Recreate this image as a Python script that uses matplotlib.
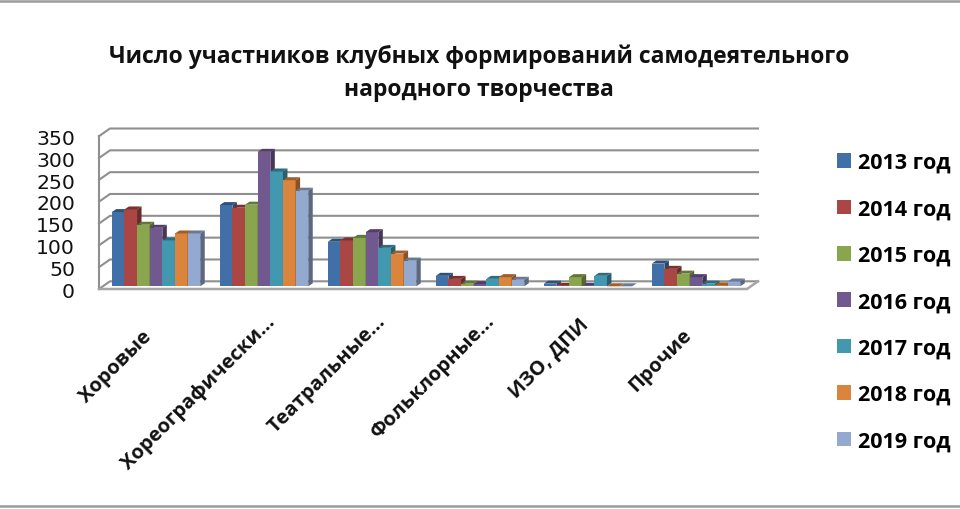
import numpy as np
import matplotlib
matplotlib.use("Agg")
import matplotlib.pyplot as plt
from matplotlib.collections import PolyCollection
from matplotlib.colors import to_rgb
from matplotlib.lines import Line2D
from matplotlib.patches import Patch
from matplotlib.transforms import ScaledTranslation

categories = ["Хоровые", "Хореографически…", "Театральные…", "Фольклорные…", "ИЗО, ДПИ", "Прочие"]
years = ["2013 год", "2014 год", "2015 год", "2016 год", "2017 год", "2018 год", "2019 год"]

y2013 = [170, 186, 102, 24, 6, 52]
y2014 = [176, 180, 105, 17, 1, 40]
y2015 = [141, 187, 111, 6, 21, 29]
y2016 = [134, 308, 124, 5, 1, 21]
y2017 = [105, 263, 88, 17, 24, 6]
y2018 = [121, 243, 75, 21, 0, 2]
y2019 = [121, 219, 59, 15, 0, 11]
series = [y2013, y2014, y2015, y2016, y2017, y2018, y2019]

colors = ["#4170A8", "#AA4643", "#89A54E", "#71588F", "#4198AF", "#DB843D", "#93A9CF"]
yticks = [0, 50, 100, 150, 200, 250, 300, 350]

W, H = 960, 510
plt.rcParams["font.family"] = ["Open Sans", "DejaVu Sans"]

fig = plt.figure(figsize=(W / 100, H / 100), dpi=100)
# bar plane in pixels: x 102..750, zero at y=287.3, 350 at y=134.5
ax = fig.add_axes([102 / W, 1 - 287.3 / H, 648 / W, 152.8 / H])
ax.set_xlim(-0.5, 5.5)
ax.set_ylim(0, 350)
for s in ax.spines.values():
    s.set_visible(False)

px_x = 6 / 648   # one pixel in data units
px_y = 350 / 152.8
grid = "#8f8f8f"

# walls and floor
x0f, x1f = -0.5 - 3 * px_x, 5.5 - 3 * px_x
x0b, x1b = -0.5 + 8 * px_x, 5.5 + 8 * px_x
yf, yb = -2.7 * px_y, 5 * px_y
for v in yticks:
    ax.plot([x0f, x0b, x1b], [v + yf, v + yb, v + yb], color=grid, lw=1.5, clip_on=False, zorder=1)
ax.plot([x0f, x0f], [yf, 350 + yf], color=grid, lw=1.5, clip_on=False, zorder=1)
ax.plot([x0f, x1f, x1b], [yf, yf, yb], color="#a6a6a6", lw=1.8, clip_on=False, zorder=1)

# 3d look of the bars
width = 88.5 / 7 * px_x
dx, dy = 4.5 * px_x, 3 * px_y
offsets = np.arange(7) - 3
xpos = np.arange(len(categories))
for j, vals in enumerate(series):
    xs = xpos + offsets[j] * width
    rgb = np.array(to_rgb(colors[j]))
    ax.bar(xs, vals, width=width, color=colors[j], zorder=3 + j, clip_on=False)
    tops = [[(x - width / 2, v), (x + width / 2, v), (x + width / 2 + dx, v + dy), (x - width / 2 + dx, v + dy)]
            for x, v in zip(xs, vals)]
    sides = [[(x + width / 2, 0), (x + width / 2 + dx, dy), (x + width / 2 + dx, v + dy), (x + width / 2, v)]
             for x, v in zip(xs, vals)]
    ax.add_collection(PolyCollection(tops, facecolors=[rgb * 0.72], edgecolors="none", zorder=3 + j, clip_on=False))
    ax.add_collection(PolyCollection(sides, facecolors=[rgb * 0.62], edgecolors="none", zorder=3 + j, clip_on=False))

ax.set_yticks(yticks)
ax.tick_params(axis="y", length=0, pad=19.5, labelsize=14.7, labelcolor="#111111")
down = ScaledTranslation(0, -3 / 72 * 0.72, fig.dpi_scale_trans)
for lab in ax.get_yticklabels():
    lab.set_family(["DejaVu Sans"])
    lab.set_transform(lab.get_transform() + down)

ax.set_xticks(xpos)
ax.set_xticklabels(categories, rotation=45, ha="right", va="top", rotation_mode="anchor",
                   fontsize=14.5, fontweight="bold", color="#111111")
ax.tick_params(axis="x", length=0, pad=0)
shift_px = [(-14, -40), (1, -25), (4, -24), (4, -24), (-10, -27), (-14, -38)]
for lab, (sx, sy) in zip(ax.get_xticklabels(), shift_px):
    lab.set_transform(lab.get_transform() + ScaledTranslation(sx / 100, sy / 100, fig.dpi_scale_trans))

handles = [Patch(facecolor=c, edgecolor="none") for c in colors]
ax.legend(handles, years, loc="upper left", bbox_to_anchor=(837 / W, 1 - 153 / H), bbox_transform=fig.transFigure,
          frameon=False, borderpad=0, borderaxespad=0, labelspacing=1.18,
          handlelength=0.67, handleheight=0.67, handletextpad=0.3, prop={"weight": "bold", "size": 15.5})

fig.text(479 / W, 1 - 57 / H, "Число участников клубных формирований самодеятельного",
         ha="center", va="center", fontsize=16.5, fontweight="bold", color="#111111")
fig.text(479 / W, 1 - 90 / H, "народного творчества",
         ha="center", va="center", fontsize=16.5, fontweight="bold", color="#111111")

# gray frame lines top and bottom
fig.add_artist(Line2D([0, 1], [1 - 1.5 / H, 1 - 1.5 / H], color="#9c9c9c", lw=1.8))
fig.add_artist(Line2D([0, 1], [1 - 507 / H, 1 - 507 / H], color="#9c9c9c", lw=1.8))

fig.savefig("out.png", dpi=100)
